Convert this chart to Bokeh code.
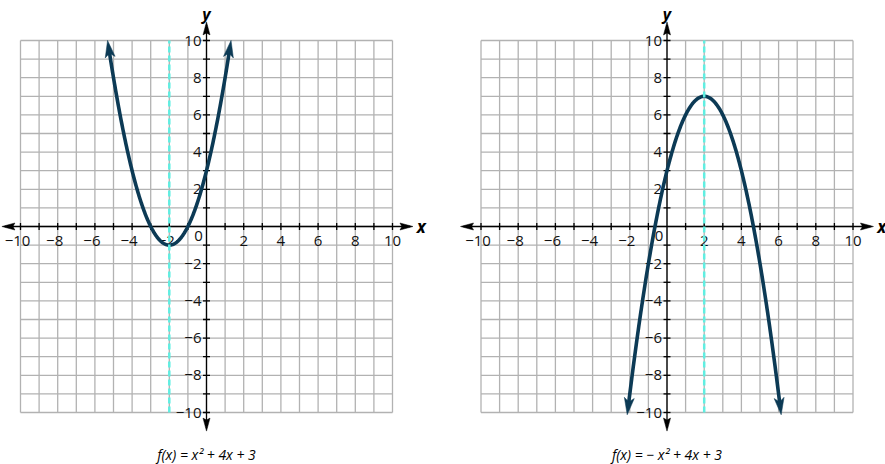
import numpy as np
from bokeh.plotting import figure
from bokeh.layouts import row
from bokeh.models import Range1d, ColumnDataSource
from bokeh.embed import file_html
from bokeh.resources import INLINE
from bokeh.core.properties import value

# ---------------- data ----------------
grid_vals = list(range(-10, 11))
tick_vals = [v for v in range(-10, 11) if v != 0]
label_vals = [-10, -8, -6, -4, -2, 2, 4, 6, 8, 10]
label_text = ["−10", "−8", "−6", "−4", "−2", "2", "4", "6", "8", "10"]

left_coeffs = [1, 4, 3]          # a, b, c  of f(x) = x² + 4x + 3
left_domain = [-5.22, 1.22]      # drawn part of the curve (arrows beyond)
left_symmetry = -2
left_caption = "f(x) = x² + 4x + 3"

right_coeffs = [-1, 4, 3]        # f(x) = −x² + 4x + 3
right_domain = [-2.06, 6.06]
right_symmetry = 2
right_caption = "f(x) = − x² + 4x + 3"

# ---------------- style / layout ----------------
S = 18.6          # pixels per unit
H = 464
FONT = "Open Sans"
CURVE = "#0c3a55"
CYAN = "#5fefe2"
GRID = "#b2b2b2"


def head(tx, ty, dx, dy, L, W, notch):
    nx, ny = -dy, dx
    bx, by = tx - dx * L / S, ty - dy * L / S
    xs = [tx, bx + nx * W / 2 / S, tx - dx * (L - notch) / S, bx - nx * W / 2 / S]
    ys = [ty, by + ny * W / 2 / S, ty - dy * (L - notch) / S, by - ny * W / 2 / S]
    return xs, ys


def panel(width, ox, oy, coeffs, domain, sym, caption, ax_lo, ax_hi, xlab_x):
    p = figure(width=width, height=H,
               x_range=Range1d(-ox / S, (width - ox) / S),
               y_range=Range1d(-(H - oy) / S, oy / S),
               x_axis_type=None, y_axis_type=None,
               output_backend="svg", toolbar_location=None,
               min_border=0, outline_line_color=None,
               background_fill_color="white", border_fill_color="white")
    p.grid.visible = False

    # grid
    n = len(grid_vals)
    p.segment(x0=grid_vals, y0=[-10] * n, x1=grid_vals, y1=[10] * n,
              line_color=GRID, line_width=1.3)
    p.segment(x0=[-10] * n, y0=grid_vals, x1=[10] * n, y1=grid_vals,
              line_color=GRID, line_width=1.3)

    # axes lines
    p.segment(x0=[ax_lo + 3 / S], y0=[0], x1=[ax_hi - 3 / S], y1=[0],
              line_color="black", line_width=1.3)
    p.segment(x0=[0], y0=[-11 + 3 / S], x1=[0], y1=[11 - 3 / S],
              line_color="black", line_width=1.3)
    hx, hy = [], []
    for (tx, ty, dx, dy) in [(ax_hi, 0, 1, 0), (ax_lo, 0, -1, 0),
                             (0, 11, 0, 1), (0, -11, 0, -1)]:
        a, b = head(tx, ty, dx, dy, 13, 7, 2)
        hx.append(a)
        hy.append(b)
    p.patches(hx, hy, fill_color="black", line_color="black", line_width=0.5)

    # ticks
    t = 3.5 / S
    m = len(tick_vals)
    p.segment(x0=tick_vals, y0=[-t] * m, x1=tick_vals, y1=[t] * m,
              line_color="black", line_width=1.3)
    p.segment(x0=[-t] * m, y0=tick_vals, x1=[t] * m, y1=tick_vals,
              line_color="black", line_width=1.3)

    # tick labels
    xsrc = ColumnDataSource(dict(x=label_vals, y=[0] * len(label_vals), text=label_text,
                                 xo=[-3 if v < 0 else 0 for v in label_vals]))
    p.text(x="x", y="y", text="text", x_offset="xo", y_offset=14, source=xsrc,
           text_align="center", text_baseline="middle",
           text_font=value(FONT), text_font_size="15px", text_color="#111111")
    p.text(x=[0] * len(label_vals), y=label_vals, text=label_text, x_offset=-5,
           text_align="right", text_baseline="middle",
           text_font=value(FONT), text_font_size="15px", text_color="#111111")
    p.text(x=[0], y=[0], text=["0"], x_offset=-8, y_offset=9,
           text_align="center", text_baseline="middle",
           text_font=value(FONT), text_font_size="15px", text_color="#111111")

    # axis titles
    p.text(x=[xlab_x], y=[0], text=["x"], text_align="center", text_baseline="middle",
           text_font=value(FONT), text_font_size="17px", text_font_style="bold italic",
           text_color="black")
    p.text(x=[0], y=[(oy - 13) / S], text=["y"], text_align="center", text_baseline="middle",
           text_font=value(FONT), text_font_size="16px", text_font_style="bold italic",
           text_color="black")

    # curve
    a, b, c = coeffs
    xs = np.linspace(domain[0], domain[1], 300)
    ys = a * xs ** 2 + b * xs + c
    p.line(xs, ys, line_color=CURVE, line_width=3.6, line_cap="butt", line_join="round")
    cx, cy = [], []
    for xe, sgn in [(domain[0], -1), (domain[1], 1)]:
        ye = a * xe ** 2 + b * xe + c
        sl = 2 * a * xe + b
        dx, dy = sgn * 1.0, sgn * sl
        nrm = (dx ** 2 + dy ** 2) ** 0.5
        dx, dy = dx / nrm, dy / nrm
        tx, ty = xe + dx * 12 / S, ye + dy * 12 / S
        hx_, hy_ = head(tx, ty, dx, dy, 17, 10, 4)
        cx.append(hx_)
        cy.append(hy_)
    p.patches(cx, cy, fill_color=CURVE, line_color=CURVE, line_width=0.5)

    # axis of symmetry
    p.segment(x0=[sym], y0=[-10], x1=[sym], y1=[10], line_color=CYAN,
              line_width=2.5, line_dash="6 3")

    # caption
    p.text(x=[0], y=[-(454 - oy) / S], text=[caption], text_align="center",
           text_baseline="middle", text_font=value(FONT), text_font_size="14px",
           text_font_style="italic", text_color="black")
    return p


p1 = panel(443, 206, 226, left_coeffs, left_domain, left_symmetry, left_caption,
           -11.0, 11.1, 11.55)
p2 = panel(442, 223.5, 226, right_coeffs, right_domain, right_symmetry, right_caption,
           -11.1, 11.1, 11.55)

layout = row(p1, p2)
open("out.html", "w").write(file_html(layout, INLINE))
